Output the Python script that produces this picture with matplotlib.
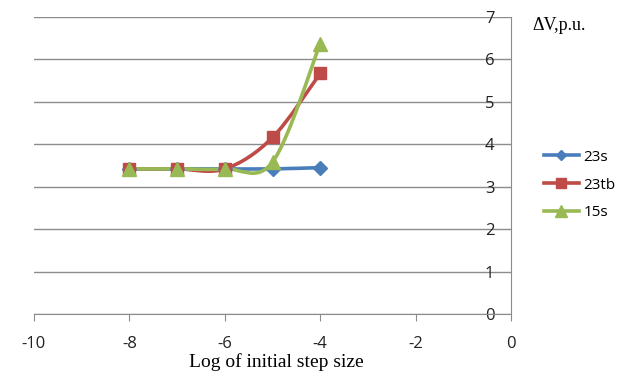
import matplotlib.pyplot as plt
import numpy as np
from matplotlib.path import Path
from matplotlib.patches import PathPatch
from matplotlib.lines import Line2D

plt.rcParams["axes.unicode_minus"] = False

# log10 of the initial step size and the resulting voltage deviation
log_step = [-8, -7, -6, -5, -4]
dv_23s = [3.42, 3.42, 3.42, 3.42, 3.45]
dv_23tb = [3.42, 3.42, 3.42, 4.16, 5.67]
dv_15s = [3.42, 3.42, 3.42, 3.58, 6.37]

series = [
    ("23s", dv_23s, "#4A7EBB", "D", 7),
    ("23tb", dv_23tb, "#BE4B48", "s", 9),
    ("15s", dv_15s, "#98B954", "^", 10),
]

sans = ["Open Sans", "DejaVu Sans"]
serif = ["Liberation Serif", "DejaVu Serif"]


def smooth_path(xs, ys):
    # cubic bezier through the points, Excel style smoothed line
    pts = np.column_stack([xs, ys]).astype(float)
    verts = [pts[0]]
    codes = [Path.MOVETO]
    n = len(pts)
    for i in range(n - 1):
        p0 = pts[i - 1] if i > 0 else pts[i]
        p1 = pts[i]
        p2 = pts[i + 1]
        p3 = pts[i + 2] if i + 2 < n else pts[i + 1]
        c1 = p1 + (p2 - p0) / 6.0
        c2 = p2 - (p3 - p1) / 6.0
        verts += [c1, c2, p2]
        codes += [Path.CURVE4] * 3
    return Path(verts, codes)


fig = plt.figure(figsize=(6.24, 3.74), dpi=100)
ax = fig.add_axes([34 / 624, 60 / 374, 477 / 624, 297 / 374])

for name, vals, color, marker, ms in series:
    ax.add_patch(PathPatch(smooth_path(log_step, vals), facecolor="none",
                           edgecolor=color, lw=2.6, zorder=3, capstyle="round"))
    ax.plot(log_step, vals, linestyle="none", marker=marker, ms=ms,
            color=color, zorder=4)

ax.set_xlim(-10, 0)
ax.set_ylim(0, 7)
ax.set_xticks(range(-10, 1, 2))
ax.set_yticks(range(0, 8))
ax.grid(axis="y", color="#8c8c8c", lw=1.0)
ax.set_axisbelow(True)

# vertical axis sits at x = 0 on the right edge
ax.spines["top"].set_visible(False)
ax.spines["right"].set_visible(False)
ax.spines["left"].set_position(("data", 0))
for s in ("left", "bottom"):
    ax.spines[s].set_color("#8c8c8c")
ax.tick_params(axis="x", direction="out", length=5, color="#8c8c8c",
               labelsize=12, pad=11, labelcolor="#222222")
ax.tick_params(axis="y", length=0, pad=12, labelsize=12, labelcolor="#222222")
for lab in ax.get_xticklabels() + ax.get_yticklabels():
    lab.set_family(sans)

ax.text(1.045, 1.0, "ΔV,p.u.", transform=ax.transAxes, ha="left", va="top",
        fontsize=13, family=serif)
fig.text(276 / 624, 1 - 362 / 374, "Log of initial step size", ha="center",
         va="center", family=serif, fontsize=14)

handles = [Line2D([], [], color=c, lw=2.6, marker=m, ms=ms * 0.8)
           for _, _, c, m, ms in series]
fig.legend(handles, [s[0] for s in series], loc="center left",
           bbox_to_anchor=(530 / 624, 1 - 185 / 374), frameon=False,
           prop={"family": sans, "size": 11}, handlelength=2.3,
           handletextpad=0.3, labelspacing=0.85)

fig.savefig("out.png", dpi=100)
